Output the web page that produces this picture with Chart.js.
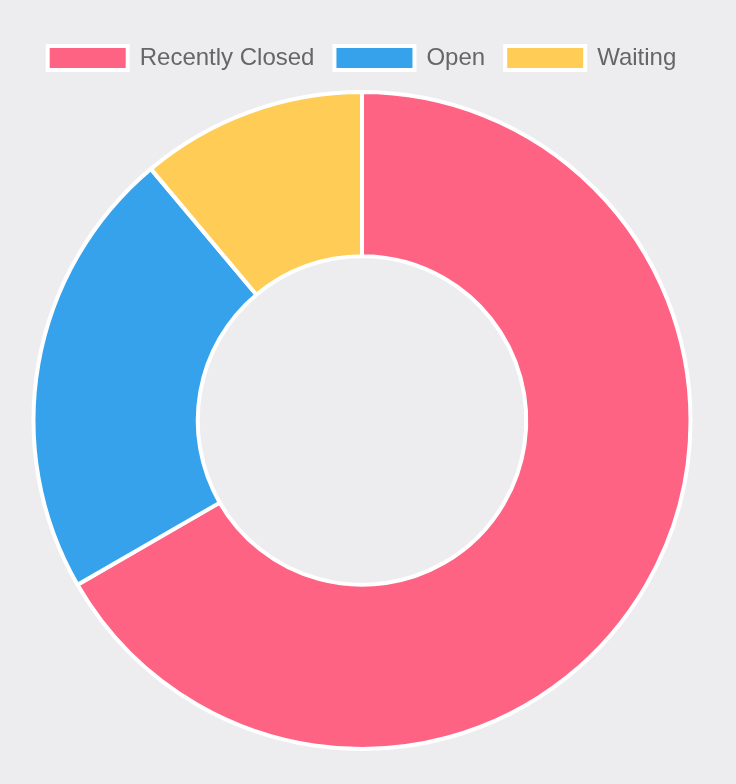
<!DOCTYPE html>
<html>
<head>
<meta charset="utf-8">
<script src="https://cdn.jsdelivr.net/npm/chart.js@4/dist/chart.umd.min.js"></script>
<style>
  html, body { margin: 0; padding: 0; background: #edecef; }
  #wrap { width: 736px; height: 784px; }
</style>
</head>
<body>
<div id="wrap"><canvas id="ticket-chart"></canvas></div>
<script>
// ticket status breakdown
const statusLabels = ['Recently Closed', 'Open', 'Waiting'];
const statusCounts = [6, 2, 1];
const statusColors = ['rgb(255, 99, 132)', 'rgb(54, 162, 235)', 'rgb(255, 205, 86)'];

// a bit more room between legend and doughnut
const legendGap = {
    id: 'legendGap',
    beforeInit(chart) {
        const origFit = chart.legend.fit;
        chart.legend.fit = function () {
            origFit.bind(chart.legend)();
            this.height += 10;
        };
    }
};

const ctx = document.getElementById('ticket-chart').getContext('2d');
new Chart(ctx, {
    type: 'doughnut',
    data: {
        labels: statusLabels,
        datasets: [{
            data: statusCounts,
            backgroundColor: statusColors,
            borderColor: '#fff',
            borderWidth: 4
        }]
    },
    options: {
        responsive: true,
        maintainAspectRatio: false,
        animation: false,
        cutout: '50%',
        layout: {
            padding: { top: 26, bottom: 33, left: 20, right: 32 }
        },
        plugins: {
            legend: {
                position: 'top',
                labels: {
                    boxWidth: 80,
                    boxHeight: 24,
                    padding: 20,
                    color: '#666',
                    font: { size: 24, family: '"Liberation Sans", Arial, sans-serif' }
                }
            },
            tooltip: { enabled: false }
        }
    },
    plugins: [legendGap]
});
</script>
</body>
</html>
